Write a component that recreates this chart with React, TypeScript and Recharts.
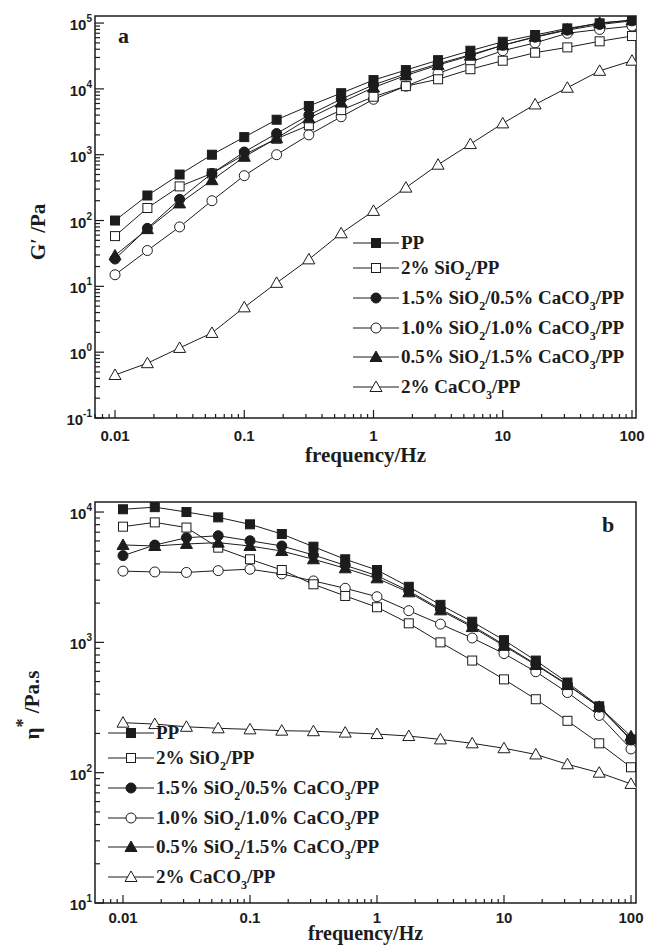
import React from "react";
import { LineChart, Line, XAxis, YAxis, ReferenceArea, Legend } from "recharts";

// frequency (Hz), 4 points per decade
const freq = [0.01, 0.0178, 0.0316, 0.0562, 0.1, 0.178, 0.316, 0.562, 1, 1.78, 3.16, 5.62, 10, 17.8, 31.6, 56.2, 100];

const seriesNames = [
  "PP",
  "2% SiO_2/PP",
  "1.5% SiO_2/0.5% CaCO_3/PP",
  "1.0% SiO_2/1.0% CaCO_3/PP",
  "0.5% SiO_2/1.5% CaCO_3/PP",
  "2% CaCO_3/PP",
];
const seriesKeys = ["pp", "si2", "si15", "si10", "si05", "ca2"];

// panel a: storage modulus G' (Pa)
const gPP = [100, 240, 500, 1000, 1850, 3400, 5500, 8600, 13600, 19300, 27300, 38000, 52000, 65800, 83000, 99000, 111000];
const gSi2 = [58, 155, 330, 520, 1000, 1750, 2800, 4760, 7600, 11000, 14000, 19900, 26800, 35500, 42700, 52800, 63500];
const gSi15 = [26, 76, 210, 520, 1100, 2100, 4000, 7000, 11500, 17000, 24000, 33000, 46000, 61000, 78000, 95000, 108000];
const gSi10 = [15, 35, 80, 200, 480, 1000, 2000, 3770, 6950, 11000, 17200, 25700, 38000, 50000, 70000, 80000, 90000];
const gSi05 = [29.5, 74, 182, 410, 930, 1780, 3570, 6200, 10500, 16000, 23000, 32000, 46000, 62000, 80000, 101000, 110000];
const gCa2 = [0.45, 0.68, 1.16, 1.96, 4.8, 11.3, 25.7, 64, 140, 316, 705, 1450, 2990, 5800, 10400, 18800, 26800];

// panel b: complex viscosity eta* (Pa.s)
const ePP = [10500, 10900, 10000, 9100, 8050, 6780, 5420, 4340, 3590, 2670, 1940, 1440, 1040, 725, 492, 323, 180];
const eSi2 = [7720, 8330, 7600, 5330, 4340, 3590, 2790, 2270, 1860, 1400, 1000, 725, 520, 366, 250, 168, 110];
const eSi15 = [4630, 5580, 6350, 6580, 6020, 5490, 4680, 3900, 3250, 2480, 1800, 1340, 960, 680, 475, 318, 178];
const eSi10 = [3520, 3470, 3440, 3550, 3640, 3350, 2960, 2600, 2240, 1750, 1380, 1080, 820, 595, 412, 275, 152];
const eSi05 = [5590, 5490, 5690, 5820, 5490, 5020, 4340, 3700, 3100, 2420, 1760, 1310, 940, 670, 470, 320, 190];
const eCa2 = [242, 236, 225, 219, 215, 210, 208, 203, 198, 191, 180, 168, 154, 138, 116, 100, 82];

// axis ticks
const xMajor = [0.01, 0.1, 1, 10, 100];
const yMajorA = [0.1, 1, 10, 100, 1000, 10000, 100000];
const yMajorB = [10, 100, 1000, 10000];
const minorSteps = [2, 3, 4, 5, 6, 7, 8, 9];

const SERIF = '"Liberation Serif", "Times New Roman", serif';
const SANS = '"Liberation Sans", Arial, sans-serif';
const INK = "#1c1c1c";

const shapes = ["square", "square", "circle", "circle", "triangle", "triangle"];
const filled = [true, false, true, false, true, false];

const withMinors = (majors: number[], lo: number, hi: number) => {
  const out: number[] = [];
  [majors[0] / 10, ...majors].forEach((m) => {
    [1, ...minorSteps].forEach((s) => {
      const v = +(m * s).toPrecision(6);
      if (v >= lo && v <= hi) out.push(v);
    });
  });
  return out;
};

const isMajor = (v: number) => Math.abs(Math.log10(v) - Math.round(Math.log10(v))) < 1e-6;

const buildRows = (cols: number[][]) =>
  freq.map((f, i) => {
    const row: Record<string, number> = { f };
    seriesKeys.forEach((k, j) => (row[k] = cols[j][i]));
    return row;
  });

const dataA = buildRows([gPP, gSi2, gSi15, gSi10, gSi05, gCa2]);
const dataB = buildRows([ePP, eSi2, eSi15, eSi10, eSi05, eCa2]);

const Marker = ({ cx, cy, idx }: { cx: number; cy: number; idx: number }) => {
  const fill = filled[idx] ? INK : "#fff";
  const common = { fill, stroke: INK, strokeWidth: 1 };
  if (shapes[idx] === "square") return <rect x={cx - 4.5} y={cy - 4.5} width={9} height={9} {...common} />;
  if (shapes[idx] === "circle") return <circle cx={cx} cy={cy} r={5} {...common} />;
  return <polygon points={`${cx},${cy - 6} ${cx + 6},${cy + 4.5} ${cx - 6},${cy + 4.5}`} {...common} />;
};

const XTick = (props: any) => {
  const { x, y, payload, labelDy = 22 } = props;
  const major = isMajor(payload.value);
  return (
    <g>
      <line x1={x} x2={x} y1={y} y2={y - (major ? 8 : 4)} stroke={INK} strokeWidth={1.2} />
      {major && (
        <text x={x} y={y + labelDy} textAnchor="middle" fontFamily={SANS} fontWeight="bold" fontSize={15} fill={INK}>
          {String(payload.value)}
        </text>
      )}
    </g>
  );
};

const YTick = (props: any) => {
  const { x, y, payload } = props;
  const major = isMajor(payload.value);
  const exp = Math.round(Math.log10(payload.value));
  return (
    <g>
      <line x1={x} x2={x + (major ? 9 : 5)} y1={y} y2={y} stroke={INK} strokeWidth={1.2} />
      {major && (
        <text x={x - 3} y={y + 7} textAnchor="end" fontFamily={SANS} fontWeight="bold" fontSize={15} fill={INK}>
          <tspan>10</tspan>
          <tspan dy={-8} fontSize={10}>{exp}</tspan>
        </text>
      )}
    </g>
  );
};

const renderLabel = (name: string) =>
  name.split(/_(\d)/).map((part, i) =>
    i % 2 === 1 ? (
      <span key={i} style={{ fontSize: 12, position: "relative", top: 6 }}>{part}</span>
    ) : (
      <span key={i}>{part}</span>
    )
  );

const rowOffsets = [0, 25, 55, 84.5, 114, 143.5];

const LegendRows = () => (
  <div style={{ position: "relative", fontFamily: SERIF, fontWeight: "bold", fontSize: 19, color: INK }}>
    {seriesNames.map((name, i) => (
      <div
        key={name}
        style={{ position: "absolute", left: 0, top: rowOffsets[i], height: 0, display: "flex", alignItems: "center", whiteSpace: "nowrap" }}
      >
        <svg width={46} height={14} style={{ overflow: "visible", flex: "none" }}>
          <line x1={0} x2={46} y1={7} y2={7} stroke={INK} strokeWidth={1} />
          <Marker cx={23} cy={7} idx={i} />
        </svg>
        <span style={{ marginLeft: 2 }}>{renderLabel(name)}</span>
      </div>
    ))}
  </div>
);

const drawOrder = [5, 3, 1, 4, 2, 0];

const seriesLines = () =>
  drawOrder.map((i) => (
    <Line
      key={seriesKeys[i]}
      dataKey={seriesKeys[i]}
      type="linear"
      stroke={INK}
      strokeWidth={1}
      isAnimationActive={false}
      activeDot={false}
      dot={(p: any) => <Marker key={`${seriesKeys[i]}-${p.index}`} cx={p.cx} cy={p.cy} idx={i} />}
    />
  ));

const xLabel = (dy: number, size: number) => (p: any) => {
  const vb = p.viewBox;
  return (
    <text x={vb.x + vb.width / 2} y={vb.y + dy} textAnchor="middle" fontFamily={SERIF} fontWeight="bold" fontSize={size} fill={INK}>
      frequency/Hz
    </text>
  );
};

const X_A: [number, number] = [0.007, 107.4];
const Y_A: [number, number] = [0.1, 128000];
const X_B: [number, number] = [0.00602, 109.5];
const Y_B: [number, number] = [10, 11940];

export default function App() {
  return (
    <div style={{ position: "absolute", left: 0, top: 0, width: 646, height: 945, background: "#fff" }}>
      <div style={{ position: "absolute", left: 0, top: 0 }}>
        <LineChart width={646} height={470} data={dataA} margin={{ top: 16, right: 10, bottom: 0, left: 0 }}>
          <XAxis
            dataKey="f"
            type="number"
            scale="log"
            domain={X_A}
            allowDataOverflow
            ticks={withMinors(xMajor, X_A[0], X_A[1])}
            interval={0}
            tick={<XTick labelDy={23} />}
            tickLine={false}
            tickSize={0}
            tickMargin={0}
            axisLine={false}
            height={52}
            label={xLabel(44, 21)}
          />
          <YAxis
            type="number"
            scale="log"
            domain={Y_A}
            allowDataOverflow
            ticks={withMinors(yMajorA, Y_A[0], Y_A[1])}
            interval={0}
            tick={<YTick />}
            tickLine={false}
            tickSize={0}
            tickMargin={0}
            axisLine={false}
            width={95}
            label={(p: any) => (
              <text
                x={38}
                y={232}
                transform="rotate(-90 38 232)"
                textAnchor="middle"
                dominantBaseline="central"
                fontFamily={SERIF}
                fontWeight="bold"
                fontSize={21}
                fill={INK}
              >
                G′ /Pa
              </text>
            )}
          />
          <ReferenceArea
            x1={X_A[0]}
            x2={X_A[1]}
            y1={Y_A[0]}
            y2={Y_A[1]}
            fill="none"
            stroke={INK}
            strokeWidth={1.5}
            ifOverflow="visible"
            label={(p: any) => (
              <text x={p.viewBox.x + 23} y={p.viewBox.y + 27} fontFamily={SERIF} fontWeight="bold" fontSize={22} fill={INK}>
                a
              </text>
            )}
          />
          {seriesLines()}
          <Legend
            layout="vertical"
            align="center"
            verticalAlign="middle"
            wrapperStyle={{ left: 353, top: 243, width: 290, height: 0 }}
            content={() => <LegendRows />}
          />
        </LineChart>
      </div>
      <div style={{ position: "absolute", left: 0, top: 470 }}>
        <LineChart width={646} height={475} data={dataB} margin={{ top: 32, right: 10, bottom: 0, left: 0 }}>
          <XAxis
            dataKey="f"
            type="number"
            scale="log"
            domain={X_B}
            allowDataOverflow
            ticks={withMinors(xMajor, X_B[0], X_B[1])}
            interval={0}
            tick={<XTick labelDy={20} />}
            tickLine={false}
            tickSize={0}
            tickMargin={0}
            axisLine={false}
            height={42}
            label={xLabel(37, 20)}
          />
          <YAxis
            type="number"
            scale="log"
            domain={Y_B}
            allowDataOverflow
            ticks={withMinors(yMajorB, Y_B[0], Y_B[1])}
            interval={0}
            tick={<YTick />}
            tickLine={false}
            tickSize={0}
            tickMargin={0}
            axisLine={false}
            width={95}
            label={(p: any) => (
              <text
                x={32}
                y={235}
                transform="rotate(-90 32 235)"
                textAnchor="middle"
                dominantBaseline="central"
                fontFamily={SERIF}
                fontWeight="bold"
                fontSize={21}
                fill={INK}
              >
                <tspan>η</tspan>
                <tspan dy={-9} fontSize={18}>*</tspan>
                <tspan dy={9}> /Pa.s</tspan>
              </text>
            )}
          />
          <ReferenceArea
            x1={X_B[0]}
            x2={X_B[1]}
            y1={Y_B[0]}
            y2={Y_B[1]}
            fill="none"
            stroke={INK}
            strokeWidth={1.5}
            ifOverflow="visible"
            label={(p: any) => (
              <text
                x={p.viewBox.x + p.viewBox.width - 34}
                y={p.viewBox.y + 30}
                fontFamily={SERIF}
                fontWeight="bold"
                fontSize={22}
                fill={INK}
              >
                b
              </text>
            )}
          />
          {seriesLines()}
          <Legend
            layout="vertical"
            align="center"
            verticalAlign="middle"
            wrapperStyle={{ left: 108, top: 263, width: 290, height: 0 }}
            content={() => <LegendRows />}
          />
        </LineChart>
      </div>
    </div>
  );
}
